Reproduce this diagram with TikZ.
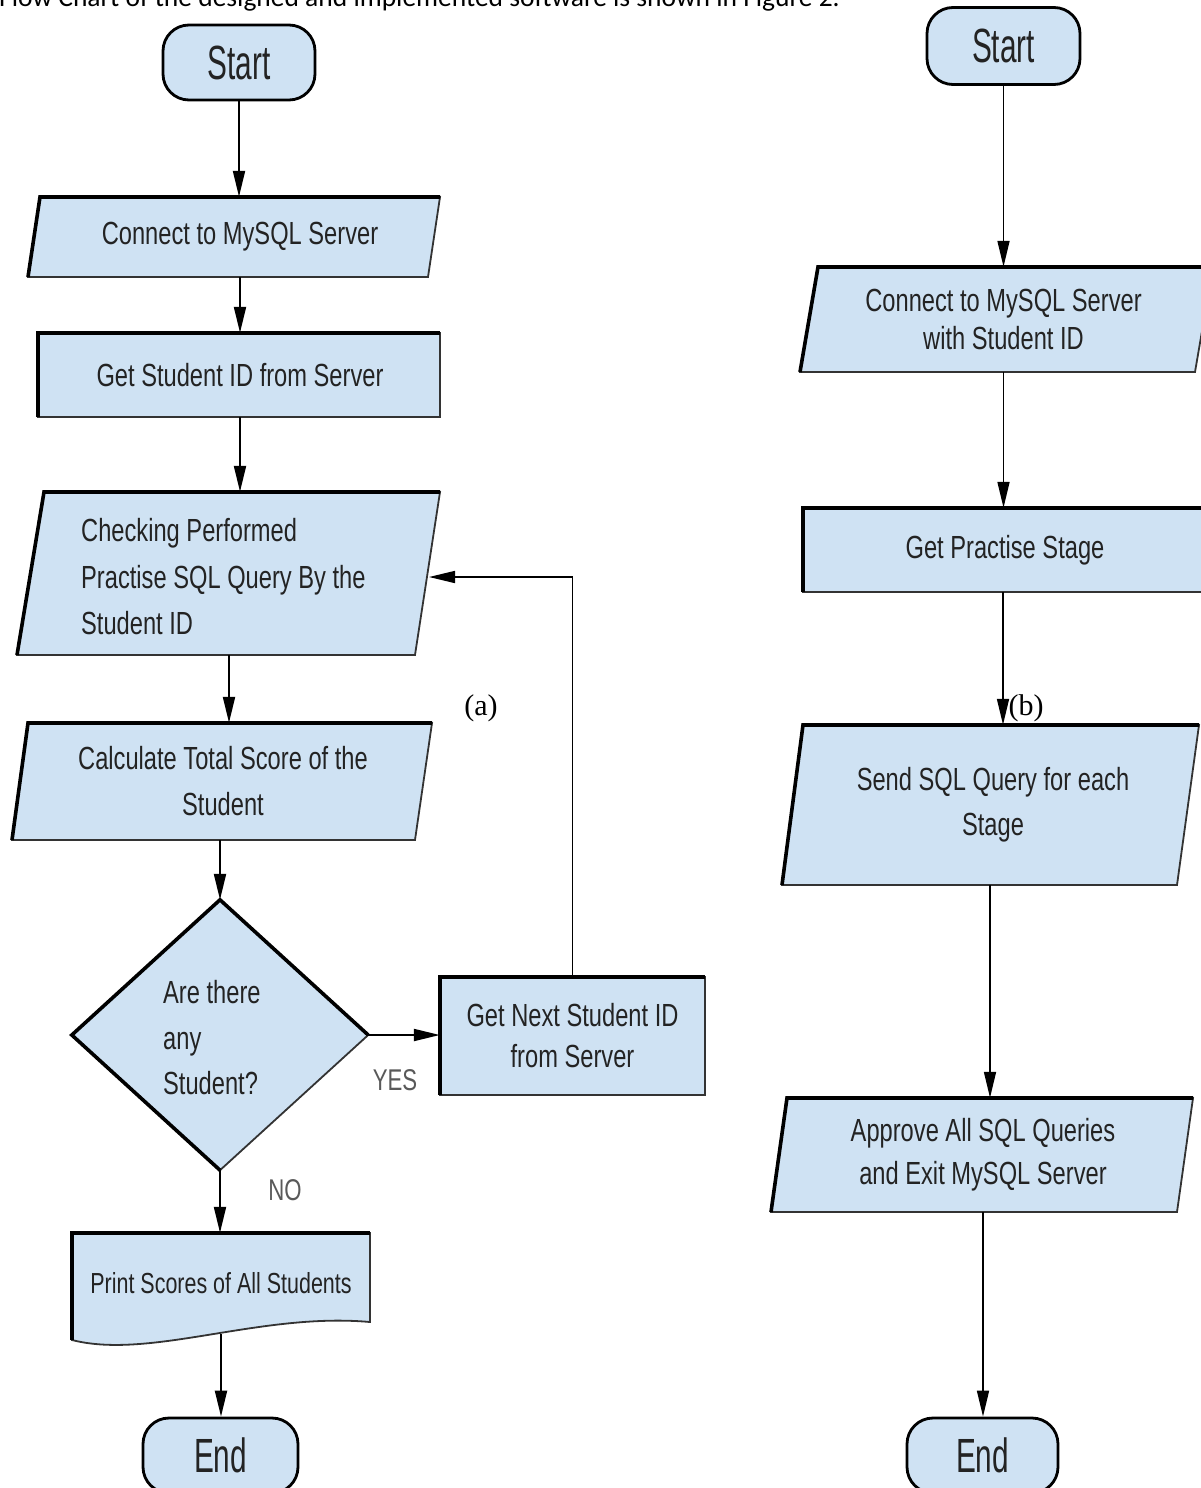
\documentclass[tikz,border=0pt]{standalone}
\usepackage{fontspec}
\setmainfont{Liberation Sans}
\newfontfamily\fl[FakeStretch=0.74]{Liberation Sans}
\newfontfamily\flt[FakeStretch=0.62]{Liberation Sans}
\newfontfamily\hdr{Carlito}
\newfontfamily\lbl{Liberation Serif}
\usetikzlibrary{arrows.meta}
\definecolor{boxfill}{RGB}{207,226,243}
\definecolor{txtc}{RGB}{35,35,35}
\begin{document}
\begin{tikzpicture}[x=1pt,y=-1pt,
  shp/.style={fill=boxfill, draw=black!80, line width=1.8pt, line join=miter},
  thk/.style={draw=black, line width=3.6pt, line join=miter, line cap=butt},
  termbox/.style={fill=boxfill, draw=black, line width=2.8pt, rounded corners=26pt, inner sep=0pt, font=\flt\fontsize{48}{50}\selectfont, text=txtc},
  lab/.style={font=\fl\fontsize{32}{44}\selectfont, text=txtc, align=center, inner sep=0pt},
  arr/.style={draw=black, line width=2pt, -{Triangle[length=26pt,width=12pt]}},
  arrthin/.style={draw=black, line width=1.6pt, -{Triangle[length=26pt,width=12pt]}},
  yn/.style={font=\fl\fontsize{30}{32}\selectfont, text=black!65, inner sep=0pt},
  tag/.style={font=\lbl\fontsize{30}{32}\selectfont, inner sep=0pt}
]
\useasboundingbox (0,0) rectangle (1201,1488);

% header line (cut at top, as in the reference)
\node[anchor=base west, font=\hdr\fontsize{27.5}{29}\selectfont, inner sep=0pt] (hdr) at (-1,7) {Flow Chart of the designed and implemented software is shown in Figure 2.};

% ---------------- left chart (a) ----------------
\node[termbox, minimum width=152pt, minimum height=75pt] (startA) at (239,62.5) {Start};

\draw[shp] (40,197) -- (440,197) -- (428,277) -- (28,277) -- cycle;
\draw[thk] (28,277) -- (40,197) -- (440,197);
\node[lab, minimum width=380pt, minimum height=80pt] (connA) at (240,237) {Connect to MySQL Server};

\draw[shp] (38,333) rectangle (440,417);
\draw[thk] (38,417) -- (38,333) -- (440,333);
\node[lab, minimum width=400pt, minimum height=84pt] (getid) at (240,375) {Get Student ID from Server};

\draw[shp] (44,492) -- (440,492) -- (415,655) -- (17,655) -- cycle;
\draw[thk] (17,655) -- (44,492) -- (440,492);
\node[minimum width=390pt, minimum height=163pt, inner sep=0pt] (check) at (229,573.5) {};
\node[lab, align=left, anchor=west, font=\fl\fontsize{32}{46.5}\selectfont] (checkt) at (81,577) {Checking Performed\\Practise SQL Query By the\\Student ID};

\draw[shp] (28,723) -- (432,723) -- (415,840) -- (12,840) -- cycle;
\draw[thk] (12,840) -- (28,723) -- (432,723);
\node[lab, minimum width=390pt, minimum height=117pt, font=\fl\fontsize{32}{46}\selectfont] (calc) at (223,781.5) {Calculate Total Score of the\\Student};

\node[minimum width=296pt, minimum height=270pt, inner sep=0pt] (dia) at (220,1035) {};
\draw[shp] (dia.north) -- (dia.east) -- (dia.south) -- (dia.west) -- cycle;
\draw[thk] (dia.south) -- (dia.west) -- (dia.north) -- (dia.east);
\node[lab, align=left, anchor=west, font=\fl\fontsize{32}{45.5}\selectfont] (diat) at (163,1038) {Are there\\any\\Student?};

\draw[shp] (440,977) rectangle (705,1095);
\draw[thk] (440,1095) -- (440,977) -- (705,977);
\node[lab, minimum width=265pt, minimum height=118pt, font=\fl\fontsize{32}{41}\selectfont] (next) at (572.5,1036) {Get Next Student ID\\from Server};

\draw[shp] (72,1233) -- (370,1233) -- (370,1322) .. controls (260,1312) and (150,1360) .. (72,1340) -- cycle;
\draw[thk] (72,1340) -- (72,1233) -- (370,1233);
\node[lab, minimum width=298pt, minimum height=101pt, font=\fl\fontsize{29}{32}\selectfont] (print) at (221,1283.5) {Print Scores of All Students};

\node[termbox, minimum width=155pt, minimum height=75pt] (endA) at (220.5,1455.5) {End};

\draw[arr] (startA.south) -- (startA.south |- connA.north);
\draw[arr] (connA.south) -- (connA.south |- getid.north);
\draw[arr] (getid.south) -- (getid.south |- check.north);
\draw[arr] (check.south) -- (check.south |- calc.north);
\draw[arr] (calc.south -| dia.north) -- (dia.north);
\draw[arr] (dia.east) -- (dia.east -| next.west);
\draw[arr] (dia.south) -- (dia.south |- print.north);
\draw[arr] (print.south) -- (print.south |- endA.north);
\coordinate (chkin) at (429,577);
\draw[arrthin] (next.north) |- (chkin);

\node[yn] (yes) at (395,1080) {YES};
\node[yn] (no) at (285,1190) {NO};
\node[tag] (la) at (481,708) {(a)};

% ---------------- right chart (b) ----------------
\node[termbox, minimum width=153pt, minimum height=77pt] (startB) at (1003.5,46) {Start};

\draw[shp] (818,267) -- (1213,267) -- (1195,372) -- (800,372) -- cycle;
\draw[thk] (800,372) -- (818,267) -- (1213,267);
\node[lab, minimum width=380pt, minimum height=105pt, font=\fl\fontsize{32}{38}\selectfont] (connB) at (1003.5,319.5) {Connect to MySQL Server\\with Student ID};

\draw[shp] (803,508) rectangle (1215,592);
\draw[thk] (803,592) -- (803,508) -- (1215,508);
\node[lab, minimum width=400pt, minimum height=84pt] (prac) at (1005,550) {Get Practise Stage};

\draw[shp] (803,725) -- (1199,725) -- (1177,885) -- (782,885) -- cycle;
\draw[thk] (782,885) -- (803,725) -- (1199,725);
\node[lab, minimum width=380pt, minimum height=160pt, font=\fl\fontsize{32}{45}\selectfont] (send) at (993,805) {Send SQL Query for each\\Stage};

\draw[shp] (787,1098) -- (1193,1098) -- (1177,1212) -- (771,1212) -- cycle;
\draw[thk] (771,1212) -- (787,1098) -- (1193,1098);
\node[lab, minimum width=380pt, minimum height=114pt, font=\fl\fontsize{32}{43}\selectfont] (appr) at (983,1155) {Approve All SQL Queries\\and Exit MySQL Server};

\node[termbox, minimum width=151pt, minimum height=75pt] (endB) at (982.5,1455.5) {End};

\draw[arrthin] (startB.south) -- (startB.south |- connB.north);
\draw[arrthin] (connB.south) -- (connB.south |- prac.north);
\draw[arrthin] ([xshift=-2pt]prac.south) -- ([xshift=-2pt]prac.south |- send.north);
\draw[arrthin] ([xshift=-3pt]send.south) -- ([xshift=-3pt]send.south |- appr.north);
\draw[arrthin] (appr.south) -- (appr.south |- endB.north);
\node[tag] (lb) at (1026,708) {(b)};
\end{tikzpicture}
\end{document}
